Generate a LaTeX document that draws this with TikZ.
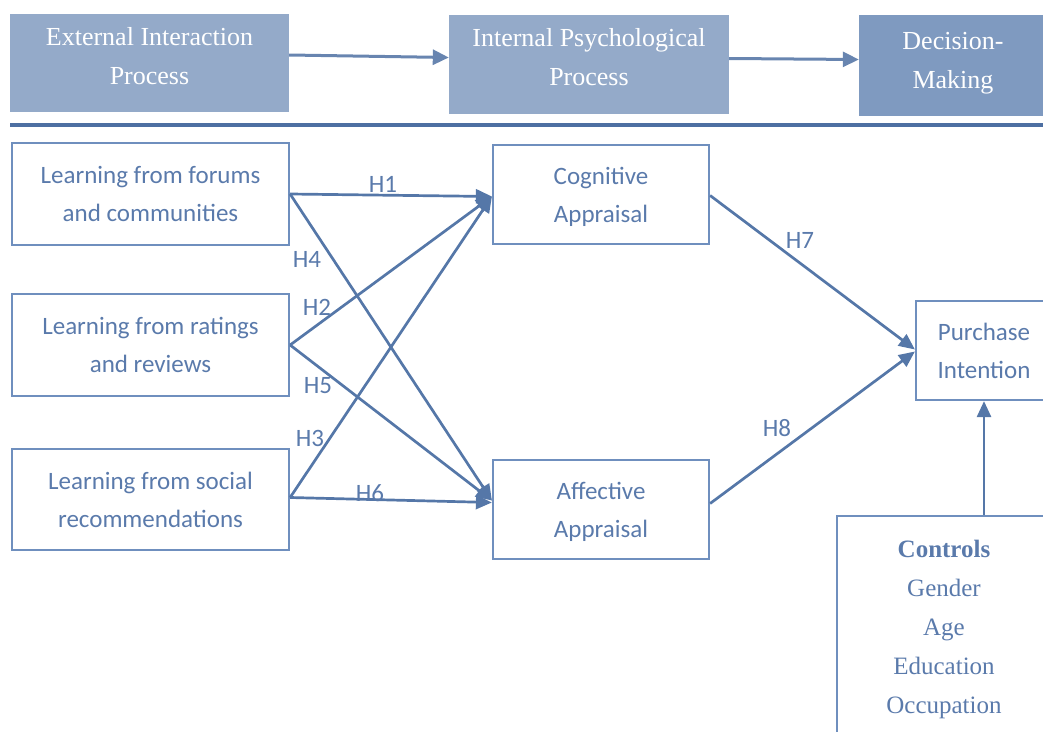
\documentclass[tikz,border=0pt]{standalone}
\usepackage{fontspec}
\setmainfont{Liberation Serif}
\newfontfamily\carl{Carlito}
\usetikzlibrary{arrows.meta}
\definecolor{topfill}{HTML}{94AAC9}
\definecolor{topfilldark}{HTML}{7F9AC0}
\definecolor{boxline}{HTML}{6F8FBE}
\definecolor{txtc}{HTML}{5A7AAB}
\definecolor{arrc}{HTML}{5577A8}
\definecolor{sepc}{HTML}{4D6FA2}
\begin{document}
\begin{tikzpicture}[x=1pt,y=-1pt,
  topbox/.style={fill=topfill, inner sep=0pt},
  toptext/.style={text=white, font=\fontsize{26}{39}\selectfont, align=center, inner sep=0pt},
  lbox/.style={draw=boxline, line width=2.2pt, text=txtc, font=\carl\fontsize{25}{38}\selectfont, align=center, inner sep=0pt},
  cbox/.style={draw=boxline, line width=2.2pt, text=txtc, font=\fontsize{25}{39}\selectfont, align=center, inner sep=0pt},
  hlab/.style={text=txtc, font=\carl\fontsize{25}{25}\selectfont, inner sep=0pt},
  arr/.style={draw=arrc, line width=2.7pt, -{Triangle[length=16pt,width=14pt]}},
  toparr/.style={draw=sepc!85, line width=3pt, -{Triangle[length=16pt,width=15pt]}}]
\useasboundingbox (0,0) rectangle (1043,731);

% top process boxes
\node[topbox, minimum width=279pt, minimum height=98pt] (t1) at (149.5,63) {};
\node[topbox, minimum width=280pt, minimum height=99pt] (t2) at (589,64.5) {};
\node[topbox, fill=topfilldark, minimum width=188pt, minimum height=101pt] (t3) at (953,65.5) {};
\node[toptext] (t1txt) at ([yshift=7pt]t1.center) {External Interaction\\Process};
\node[toptext] (t2txt) at ([yshift=7pt]t2.center) {Internal Psychological\\Process};
\node[toptext] (t3txt) at ([yshift=2pt]t3.center) {Decision-\\Making};
\draw[toparr] ([yshift=8pt]t1.east) -- ([yshift=7pt]t2.west);
\draw[toparr] ([yshift=6pt]t2.east) -- ([yshift=6pt]t3.west);

% separator
\draw[sepc, line width=3.5pt] (10,125) -- (1043,125);

% model boxes
\node[lbox, minimum width=277pt, minimum height=102pt] (l1) at (150.5,194) {Learning from forums\\and communities};
\node[lbox, minimum width=277pt, minimum height=102pt] (l2) at (150.5,345) {Learning from ratings\\and reviews};
\node[lbox, minimum width=277pt, minimum height=101pt] (l3) at (150.5,499.5) {Learning from social\\recommendations};
\node[lbox, minimum width=216pt, minimum height=99pt, text depth=0pt] (cog) at (601,194.5) {Cognitive\\Appraisal};
\node[lbox, minimum width=216pt, minimum height=99pt, text depth=0pt] (aff) at (601,509.5) {Affective\\Appraisal};
\node[lbox, minimum width=136pt, minimum height=99pt] (pi) at (984,350.5) {Purchase\\Intention};
\node[cbox, minimum width=214pt, minimum height=226pt] (ctrl) at (944,629) {\textbf{Controls}\\Gender\\Age\\Education\\Occupation};

% hypothesis arrows
\draw[arr] (l1.east) -- ([yshift=-2pt]cog.west);
\draw[arr] (l1.east) -- ([yshift=9pt]aff.west);
\draw[arr] (l2.east) -- ([yshift=-2pt]cog.west);
\draw[arr] (l2.east) -- ([yshift=9pt]aff.west);
\draw[arr] ([yshift=2pt]l3.east) -- ([yshift=-2pt]cog.west);
\draw[arr] ([yshift=2pt]l3.east) -- ([yshift=7pt]aff.west);
\draw[arr] ([yshift=-1pt]cog.east) -- ([yshift=1pt]pi.west);
\draw[arr] ([yshift=6pt]aff.east) -- ([yshift=-1pt]pi.west);
\draw[arr] (pi.south |- ctrl.north) -- (pi.south);

% labels
\node[hlab] (h1) at (383,184) {H1};
\node[hlab] (h4) at (307,259) {H4};
\node[hlab] (h2) at (317,307) {H2};
\node[hlab] (h5) at (318,386) {H5};
\node[hlab] (h3) at (310,438) {H3};
\node[hlab] (h6) at (370,493) {H6};
\node[hlab] (h7) at (800,240) {H7};
\node[hlab] (h8) at (777,428) {H8};
\end{tikzpicture}
\end{document}
